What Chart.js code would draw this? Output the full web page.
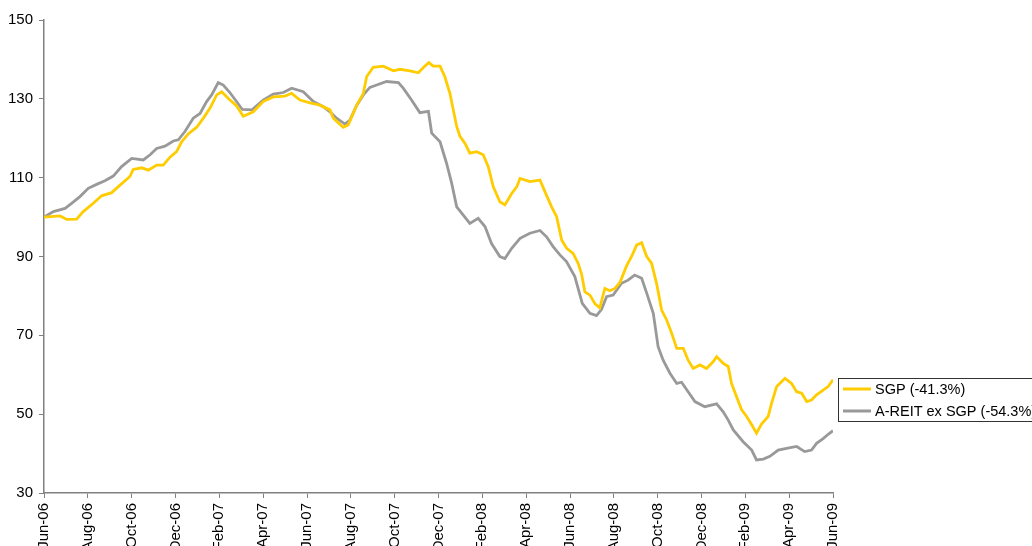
<!DOCTYPE html>
<html>
<head>
<meta charset="utf-8">
<script src="https://cdn.jsdelivr.net/npm/chart.js@4/dist/chart.umd.min.js"></script>
<style>
    html, body { margin: 0; padding: 0; background: #ffffff; }
    #wrap { width: 1032px; height: 546px; overflow: hidden; }
</style>
</head>
<body>
<div id="wrap"><canvas id="grafico" width="1032" height="546"></canvas></div>
<script>
// x = months since Jun-06
const monthLabels = ["Jun-06", "Aug-06", "Oct-06", "Dec-06", "Feb-07", "Apr-07", "Jun-07", "Aug-07", "Oct-07", "Dec-07",
    "Feb-08", "Apr-08", "Jun-08", "Aug-08", "Oct-08", "Dec-08", "Feb-09", "Apr-09", "Jun-09"];

const yTicks = [30, 50, 70, 90, 110, 130, 150];

const sgpMonths = [0, 0.73, 1.04, 1.49, 1.79, 2.25, 2.63, 3.09, 3.47, 3.92, 4.07, 4.46, 4.76, 5.14, 5.44, 5.75, 6.05, 6.28, 6.58, 6.97,
    7.27, 7.57, 7.88, 8.11, 8.41, 8.79, 9.09, 9.55, 10.0, 10.46, 10.99, 11.3, 11.68, 12.14, 12.59, 13.05, 13.2, 13.65, 13.88, 14.27,
    14.57, 14.72, 15.02, 15.48, 15.94, 16.24, 16.7, 17.08, 17.38, 17.56, 17.76, 18.07, 18.29, 18.52, 18.83, 18.98, 19.21, 19.43, 19.74, 20.04,
    20.27, 20.5, 20.8, 21.03, 21.34, 21.57, 21.72, 22.17, 22.63, 22.86, 23.16, 23.39, 23.62, 23.85, 24.14, 24.37, 24.53, 24.68, 24.91, 25.14,
    25.36, 25.59, 25.82, 26.05, 26.28, 26.58, 26.81, 27.04, 27.27, 27.5, 27.72, 27.95, 28.18, 28.41, 28.64, 28.87, 29.17, 29.39, 29.62, 29.93,
    30.23, 30.53, 30.69, 30.99, 31.22, 31.37, 31.6, 31.83, 32.06, 32.29, 32.51, 32.74, 33.04, 33.2, 33.43, 33.81, 34.11, 34.34, 34.57, 34.8,
    35.02, 35.25, 35.55, 35.78, 36];
const sgpValues = [100, 100.3, 99.4, 99.5, 101.4, 103.5, 105.4, 106.2, 108.1, 110.3, 112.1, 112.5, 111.9, 113.2, 113.2, 115.2, 116.6, 119.1, 121.1, 122.8,
    125.1, 127.6, 131, 131.8, 130.1, 128.2, 125.6, 126.7, 129.3, 130.5, 130.7, 131.4, 129.7, 129, 128.4, 127.2, 125.1, 122.8, 123.4, 128.4,
    131.4, 135.6, 138, 138.3, 137.1, 137.5, 137.1, 136.6, 138.3, 139.2, 138.3, 138.3, 135.6, 131.4, 123, 120.5, 118.7, 116.2, 116.6, 115.8,
    112.8, 107.7, 103.9, 103.1, 106, 107.7, 109.8, 109, 109.4, 106.4, 102.6, 100.1, 94.2, 92.1, 90.8, 88.3, 85.5, 81, 80.2, 78,
    77, 81.9, 81.3, 81.9, 83.4, 87.6, 90, 92.9, 93.5, 90, 88.3, 83.2, 76.4, 73.9, 70.5, 66.7, 66.7, 63.7, 61.6, 62.5,
    61.6, 63.3, 64.6, 62.9, 62.1, 57.8, 54.4, 51.1, 49.4, 47.3, 45.2, 47.5, 49.4, 52.8, 57, 59.1, 57.8, 55.7, 55.3, 53.2,
    53.6, 54.9, 56.1, 57, 58.7];

const areitMonths = [0, 0.43, 0.96, 1.26, 1.64, 2.02, 2.4, 2.78, 3.16, 3.54, 4.0, 4.53, 4.84, 5.14, 5.52, 5.9, 6.13, 6.43, 6.81, 7.12,
    7.42, 7.65, 7.95, 8.18, 8.48, 8.8, 9.05, 9.49, 10.0, 10.46, 10.92, 11.3, 11.83, 12.29, 12.74, 13.05, 13.35, 13.73, 13.96, 14.27,
    14.57, 14.87, 15.18, 15.63, 16.17, 16.39, 16.77, 17.15, 17.54, 17.69, 18.07, 18.37, 18.6, 18.83, 19.13, 19.43, 19.81, 20.12, 20.42, 20.8,
    21.03, 21.34, 21.72, 22.17, 22.63, 22.93, 23.23, 23.54, 23.84, 24.22, 24.56, 24.91, 25.21, 25.44, 25.67, 25.97, 26.35, 26.65, 26.95, 27.27,
    27.5, 27.8, 28.02, 28.25, 28.56, 28.87, 29.09, 29.39, 29.7, 30.15, 30.69, 30.99, 31.22, 31.45, 31.9, 32.29, 32.51, 32.82, 33.12, 33.5,
    33.88, 34.34, 34.71, 35.02, 35.25, 35.55, 35.78, 36];
const areitValues = [100, 101.4, 102.2, 103.5, 105.2, 107.3, 108.3, 109.2, 110.4, 112.8, 114.9, 114.5, 115.8, 117.4, 118, 119.3, 119.6, 121.7, 125.1, 126.3,
    129.3, 131, 134.1, 133.5, 131.6, 129.2, 127.3, 127.2, 129.7, 131.2, 131.6, 132.7, 131.8, 129.3, 128, 126.7, 125.1, 123.6, 124.6, 128.4,
    131, 132.9, 133.5, 134.4, 134.1, 132.7, 129.7, 126.5, 126.8, 121.3, 119.1, 113.6, 108.6, 102.6, 100.5, 98.4, 99.7, 97.6, 93.3, 90,
    89.5, 92.1, 94.6, 95.9, 96.6, 95, 92.5, 90.4, 88.7, 84.9, 78.1, 75.6, 75, 76.6, 79.8, 80.2, 83.2, 84, 85.3, 84.5,
    80.7, 75.6, 67.1, 63.7, 60.4, 57.8, 58.1, 55.7, 53.2, 51.9, 52.6, 50.6, 48.5, 46, 43, 40.9, 38.4, 38.6, 39.3, 40.9,
    41.3, 41.8, 40.5, 40.9, 42.6, 43.8, 44.9, 45.8];

const seriesNames = ["SGP (-41.3%)", "A-REIT ex SGP (-54.3%)"];
const seriesColors = ["#FFCC00", "#999999"];

function toPoints(xs, ys) {
    return xs.map((m, i) => ({ x: m, y: ys[i] }));
}

// legend box drawn beside the plot, partly cut by the right edge like the original
const boxLegend = {
    id: "boxLegend",
    afterDraw(chart) {
        const c = chart.ctx;
        const left = 838, top = 378, rowH = 22;
        c.save();
        c.strokeStyle = "#333333";
        c.lineWidth = 1;
        c.strokeRect(left + 0.5, top + 0.5, 260, 43);
        c.font = "14.5px 'Liberation Sans', Arial, sans-serif";
        c.textBaseline = "middle";
        chart.data.datasets.forEach((ds, i) => {
            const y = top + 11 + i * rowH;
            c.strokeStyle = ds.borderColor;
            c.lineWidth = 3;
            c.beginPath();
            c.moveTo(left + 5, y);
            c.lineTo(left + 33, y);
            c.stroke();
            c.fillStyle = "#000000";
            c.fillText(ds.label, left + 37, y + 1);
        });
        c.restore();
    }
};

document.addEventListener("DOMContentLoaded", () => {

    const ctx = document.getElementById("grafico");

    new Chart(ctx, {
        type: "line",
        data: {
            datasets: [
                {
                    label: seriesNames[0],
                    data: toPoints(sgpMonths, sgpValues),
                    borderColor: seriesColors[0],
                    borderWidth: 2.8,
                    pointRadius: 0,
                    fill: false,
                    tension: 0
                },
                {
                    label: seriesNames[1],
                    data: toPoints(areitMonths, areitValues),
                    borderColor: seriesColors[1],
                    borderWidth: 2.8,
                    pointRadius: 0,
                    fill: false,
                    tension: 0
                }
            ]
        },
        options: {
            responsive: false,
            animation: false,
            layout: {
                padding: { top: 20, right: 199, left: 0, bottom: 0 }
            },
            plugins: {
                legend: { display: false },
                tooltip: { enabled: false }
            },
            scales: {
                x: {
                    type: "linear",
                    min: 0,
                    max: 36,
                    afterFit: (s) => { s.height = 53; },
                    afterBuildTicks: (s) => {
                        s.ticks = monthLabels.map((_, i) => ({ value: i * 2 }));
                    },
                    border: { color: "#808080", width: 1.5 },
                    grid: { drawOnChartArea: false, tickLength: 5, color: "#808080" },
                    ticks: {
                        autoSkip: false,
                        minRotation: 90,
                        maxRotation: 90,
                        padding: 5,
                        color: "#000000",
                        font: { family: "'Liberation Sans', Arial, sans-serif", size: 15 },
                        callback: (v) => monthLabels[Math.round(v / 2)]
                    }
                },
                y: {
                    min: 30,
                    max: 150,
                    afterFit: (s) => { s.width = 44; },
                    afterBuildTicks: (s) => {
                        s.ticks = yTicks.map(v => ({ value: v }));
                    },
                    border: { color: "#808080", width: 1.5 },
                    grid: { drawOnChartArea: false, tickLength: 5, color: "#808080" },
                    ticks: {
                        padding: 6,
                        color: "#000000",
                        font: { family: "'Liberation Sans', Arial, sans-serif", size: 15 }
                    }
                }
            }
        },
        plugins: [boxLegend]
    });

});
</script>
</body>
</html>
